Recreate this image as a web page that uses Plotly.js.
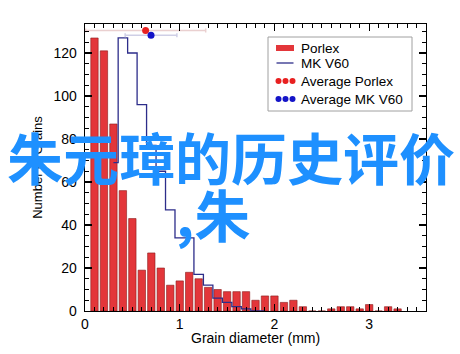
<!DOCTYPE html>
<html>
<head>
<meta charset="utf-8">
<script src="https://cdn.plot.ly/plotly-3.0.1.min.js"></script>
<style>html,body{margin:0;padding:0;background:#fff;}#chart{width:460px;height:354px;}</style>
</head>
<body>
<div id="chart"></div>
<script>
// ---- data ----
const porlexBins = [0.1,0.2,0.3,0.4,0.5,0.6,0.7,0.8,0.9,1.0,1.1,1.2,1.3,1.4,1.5,1.6,1.7,1.8,1.9,2.0,2.1,2.2,2.3,2.4,2.5,2.6,2.7,2.8,2.9,3.0,3.1,3.2,3.3];
const porlexCounts = [127,121,87,56,43,19,27,20,12,14,18,15,11,10,9,9,9,5,7,7,4,5,2,0,0,1,2,2,1,3,0,2,1];
const mkBins = [0.3,0.4,0.5,0.6,0.7,0.8,0.9,1.0,1.1,1.2,1.3,1.4,1.5,1.6,1.7,1.8,1.9];
const mkCounts = [69,127,120,96,77,65,47,34,34,17,12,6,4,2,1,0,0];
const avgPorlexX = [0.64], avgPorlexY = [130.5], avgPorlexSD = [0.634];
const avgMkX = [0.697], avgMkY = [128.3], avgMkSD = [0.273];
const xTickVals = [0,1,2,3];
const yTickVals = [0,20,40,60,80,100,120];
const legendLabels = ['Porlex','MK V60','Average Porlex','Average MK V60'];
const xTitle = 'Grain diameter (mm)';
const yTitle = 'Number of Grains';
const watermark1 = '朱元璋的历史评价';
const watermark2 = ',朱';

// ---- layout helpers (pixel -> paper) ----
const L = 85, R = 34, T = 24, B = 43, W = 460 - L - R, H = 354 - T - B;
const px = x => (x - L) / W;
const py = y => (354 - B - y) / H;

const RED = '#e3363a', NAVY = '#2d2d8a', BLUEDOT = '#1414c8', REDDOT = '#e82020';

const traces = [
  { type:'bar', x: porlexBins, y: porlexCounts, width: 0.078,
    marker:{color:RED, line:{color:'#8a1c1c', width:0.6}}, showlegend:false, hoverinfo:'skip' },
  { type:'scatter', mode:'lines', x: mkBins, y: mkCounts,
    line:{shape:'hvh', color:NAVY, width:1.3}, showlegend:false, hoverinfo:'skip' },
  { type:'scatter', mode:'markers', x: avgPorlexX, y: avgPorlexY,
    error_x:{type:'data', array: avgPorlexSD, color:'#ead0d0', thickness:1.5, width:2},
    marker:{color:REDDOT, size:7}, showlegend:false, hoverinfo:'skip', cliponaxis:false },
  { type:'scatter', mode:'markers', x: avgMkX, y: avgMkY,
    error_x:{type:'data', array: avgMkSD, color:'#cfcfe6', thickness:1.5, width:2},
    marker:{color:BLUEDOT, size:7}, showlegend:false, hoverinfo:'skip', cliponaxis:false }
];

const fontFam = 'Liberation Sans, Arial, Helvetica, sans-serif';

// manual legend
const shapes = [
  {type:'rect', xref:'paper', yref:'paper', x0:px(268), x1:px(412), y0:py(111), y1:py(37),
   line:{color:'#a0a0a0', width:1}, fillcolor:'#ffffff', layer:'above'},
  {type:'rect', xref:'paper', yref:'paper', x0:px(276), x1:px(294), y0:py(51), y1:py(45),
   line:{width:0}, fillcolor:RED, layer:'above'},
  {type:'line', xref:'paper', yref:'paper', x0:px(276.5), x1:px(293.5), y0:py(63), y1:py(63),
   line:{color:NAVY, width:1.3}, layer:'above'}
];
const dotXs = [278.5, 285.5, 292.5];
[[81, REDDOT],[99, BLUEDOT]].forEach(([yy,c]) => {
  dotXs.forEach(xx => shapes.push({type:'circle', xref:'paper', yref:'paper',
    x0:px(xx-3), x1:px(xx+3), y0:py(yy+3), y1:py(yy-3), line:{width:0}, fillcolor:c, layer:'above'}));
});

const legendYs = [48.5, 64, 81.5, 99.5];
const annotations = legendLabels.map((t,i) => ({
  text:t, xref:'paper', yref:'paper', x:px(299), y:py(legendYs[i]), xanchor:'left', yanchor:'middle',
  showarrow:false, font:{family:fontFam, size:13.5, color:'#000'}
}));
// x-axis title placed precisely
annotations.push({text:xTitle, xref:'paper', yref:'paper', x:0.5, y:py(337.5),
  xanchor:'center', yanchor:'middle', showarrow:false, font:{family:fontFam, size:14, color:'#000'}});
annotations.push({text:watermark1, xref:'paper', yref:'paper', x:px(231), y:py(155),
  xanchor:'center', yanchor:'middle', showarrow:false,
  font:{family:'Noto Sans CJK SC', size:56, color:'#1e90ff', weight:700}});
annotations.push({text:watermark2, xref:'paper', yref:'paper', x:px(174), y:py(213),
  xanchor:'left', yanchor:'middle', showarrow:false,
  font:{family:'Noto Sans CJK SC', size:56, color:'#1e90ff', weight:700}});

const axisCommon = {
  showgrid:false, zeroline:false, showline:true, linecolor:'#000', linewidth:1.3,
  mirror:'allticks', ticks:'inside', ticklen:7, tickwidth:1.2, tickcolor:'#000',
  tickfont:{family:fontFam, size:14, color:'#000'}
};

const layout = {
  width:460, height:354,
  margin:{l:L, r:R, t:T, b:B},
  paper_bgcolor:'#fff', plot_bgcolor:'#fff',
  showlegend:false,
  bargap:0,
  xaxis: Object.assign({}, axisCommon, {
    range:[0,3.6], tickmode:'array', tickvals:xTickVals, ticktext:xTickVals.map(String),
    ticklabelstandoff:0,
    minor:{dtick:0.1, ticks:'inside', ticklen:4, tickcolor:'#000', tickwidth:1}
  }),
  yaxis: Object.assign({}, axisCommon, {
    range:[0,133.5], tickmode:'array', tickvals:yTickVals, ticktext:yTickVals.map(String),
    ticklabelstandoff:4,
    minor:{dtick:5, ticks:'inside', ticklen:4, tickcolor:'#000', tickwidth:1},
    title:{text:yTitle, font:{family:fontFam, size:13, color:'#000'}, standoff:8}
  }),
  shapes: shapes,
  annotations: annotations
};

Plotly.newPlot('chart', traces, layout, {displayModeBar:false, staticPlot:true});
</script>
</body>
</html>
